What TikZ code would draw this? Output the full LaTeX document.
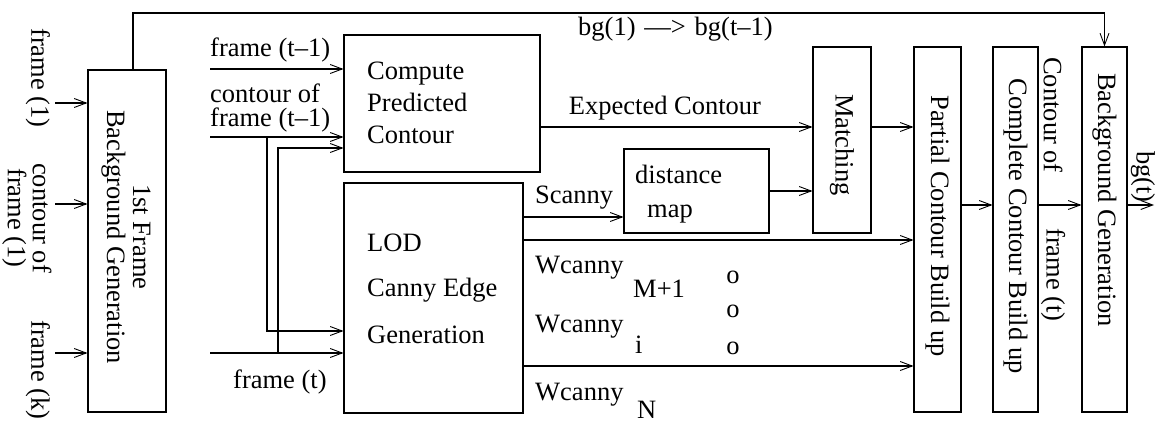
\documentclass[tikz,border=0pt]{standalone}
\usepackage{fontspec}
\setmainfont{Liberation Serif}
\usetikzlibrary{arrows.meta,calc}
\begin{document}
\begin{tikzpicture}[x=1pt,y=-1pt,
  box/.style={draw, line width=1.1pt, inner sep=0pt},
  lbl/.style={font=\fontsize{26.5}{30}\selectfont, inner sep=0pt},
  rlbl/.style={lbl, rotate=-90, align=center},
  arr/.style={line width=1.1pt, -{Straight Barb[length=12pt,width=9pt,line width=0.9pt]}},
  ln/.style={line width=1.1pt}]
\useasboundingbox (0,0) rectangle (1158,422);
% boxes
\node[box, minimum width=78, minimum height=342] (L) at (127,241) {};
\node[box, minimum width=196, minimum height=137] (C) at (442,103.5) {};
\node[box, minimum width=179, minimum height=230] (LOD) at (433.5,298) {};
\node[box, minimum width=145, minimum height=84] (D) at (696.5,191) {};
\node[box, minimum width=58, minimum height=186] (M) at (842,140) {};
\node[box, minimum width=47, minimum height=365] (P) at (937.5,229.5) {};
\node[box, minimum width=45, minimum height=365] (Cc) at (1015.5,229.5) {};
\node[box, minimum width=45, minimum height=365] (B) at (1104.5,229.5) {};
% box texts
\node[rlbl, font=\fontsize{26.5}{26}\selectfont] (Lt) at (126,237) {1st Frame\\Background Generation};
\node[lbl, anchor=base west] (Ct1) at (367,80) {Compute};
\node[lbl, anchor=base west] (Ct2) at (367,112) {Predicted};
\node[lbl, anchor=base west] (Ct3) at (367,144) {Contour};
\node[lbl, anchor=base west] (LODt1) at (367,251) {LOD};
\node[lbl, anchor=base west] (LODt2) at (367,296) {Canny Edge};
\node[lbl, anchor=base west] (LODt3) at (367,343) {Generation};
\node[lbl, anchor=base west] (Dt1) at (635,183) {distance};
\node[lbl, anchor=base west] (Dt2) at (647,217) {map};
\node[rlbl] (Mt) at (842,145) {Matching};
\node[rlbl] (Pt) at (937.5,226) {Partial Contour Build up};
\node[rlbl] (Cct) at (1015.5,226) {Complete Contour Build up};
\node[rlbl] (Bt) at (1104.5,200) {Background Generation};
% left inputs
\node[rlbl] (f1) at (38,78) {frame (1)};
\node[rlbl, font=\fontsize{26.5}{25}\selectfont] (c1) at (27,218) {contour of\\frame (1)};
\node[rlbl] (fk) at (38,370) {frame (k)};
\coordinate (i1) at (55,103);
\coordinate (i2) at (55,204);
\coordinate (i3) at (55,353);
\draw[arr] (i1) -- (i1 -| L.west);
\draw[arr] (i2) -- (i2 -| L.west);
\draw[arr] (i3) -- (i3 -| L.west);
% top feedback
\coordinate (tc) at (1104.5,13);
\draw[arr] ([xshift=6pt]L.north) |- (tc) -- (B.north);
\node[lbl, anchor=base west] (bgl) at (578,36) {bg(1)\,\,---{>}\,\,bg(t--1)};
% inputs to C and LOD
\node[lbl, anchor=base west] (ft1l) at (210,57) {frame (t--1)};
\node[lbl, anchor=base west] (ct1l) at (210,103) {contour of};
\node[lbl, anchor=base west] (ct2l) at (210,127) {frame (t--1)};
\node[lbl, anchor=base west] (ftl) at (233,388) {frame (t)};
\coordinate (ft1) at (210,69);
\coordinate (ct1) at (210,137);
\coordinate (ft) at (210,353);
\coordinate (j1) at (267,137);
\coordinate (j2) at (278,353);
\draw[arr] (ft1) -- (ft1 -| C.west);
\draw[arr] (ct1) -- (ct1 -| C.west);
\draw[arr] (j1) |- ($(LOD.west)+(0,33)$);
\draw[arr] (ft) -- (ft -| LOD.west);
\draw[arr] (j2) |- ($(C.west)+(0,44.5)$);
% C -> M
\draw[arr] ($(C.east)+(0,23.5)$) coordinate (e0) -- (e0 -| M.west);
\node[lbl, anchor=base] (el) at (665,115) {Expected Contour};
% LOD -> D
\draw[arr] ($(LOD.east)+(0,-81)$) coordinate (s0) -- (s0 -| D.west);
\node[lbl, anchor=base west] (sl) at (535,204) {Scanny};
% D -> M
\draw[arr] (D.east) -- (D.east -| M.west);
% M -> P
\draw[arr] ($(M.east)+(0,-13)$) coordinate (m0) -- (m0 -| P.west);
% LOD -> P
\draw[arr] ($(LOD.east)+(0,-58)$) coordinate (w0) -- (w0 -| P.west);
\draw[arr] ($(LOD.east)+(0,68)$) coordinate (w1) -- (w1 -| P.west);
\node[lbl, anchor=base west] (wl1) at (535,273) {Wcanny};
\node[lbl, anchor=base west] (wl2) at (535,332) {Wcanny};
\node[lbl, anchor=base west] (wl3) at (535,400) {Wcanny};
\node[lbl, anchor=base west] (s1) at (633,297) {M+1};
\node[lbl, anchor=base west] (s2) at (635,353) {i};
\node[lbl, anchor=base west] (s3) at (637,418) {N};
\node[lbl, anchor=base] (o1) at (733,283) {o};
\node[lbl, anchor=base] (o2) at (733,317) {o};
\node[lbl, anchor=base] (o3) at (733,354) {o};
% P -> Cc -> B -> out
\draw[arr] ($(P.east)+(0,-24.5)$) coordinate (p0) -- (p0 -| Cc.west);
\draw[arr] ($(Cc.east)+(0,-24.5)$) coordinate (q0) -- (q0 -| B.west);
\node[rlbl] (col) at (1053,115) {Contour of};
\node[rlbl] (frl) at (1053,275) {frame (t)};
\coordinate (out) at (1154,205);
\draw[arr] ($(B.east)+(0,-24.5)$) -- (out);
\node[rlbl] (bgt) at (1143,177) {bg(t)};
\end{tikzpicture}
\end{document}
